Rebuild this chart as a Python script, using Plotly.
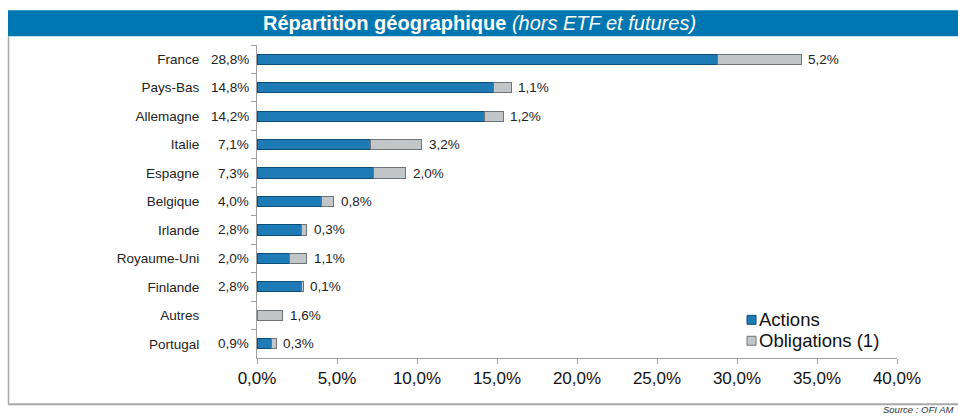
import plotly.graph_objects as go

categories = ["France", "Pays-Bas", "Allemagne", "Italie", "Espagne", "Belgique",
              "Irlande", "Royaume-Uni", "Finlande", "Autres", "Portugal"]
actions = [28.8, 14.8, 14.2, 7.1, 7.3, 4.0, 2.8, 2.0, 2.8, 0.0, 0.9]
obligations = [5.2, 1.1, 1.2, 3.2, 2.0, 0.8, 0.3, 1.1, 0.1, 1.6, 0.3]
actions_labels = ["28,8%", "14,8%", "14,2%", "7,1%", "7,3%", "4,0%", "2,8%", "2,0%", "2,8%", "", "0,9%"]
oblig_labels = ["5,2%", "1,1%", "1,2%", "3,2%", "2,0%", "0,8%", "0,3%", "1,1%", "0,1%", "1,6%", "0,3%"]
series_names = ["Actions", "Obligations (1)"]
series_colors = ["#1E7BB5", "#C3C6C9"]
series_lines = ["#0E4C78", "#6F7478"]
x_ticks = [0, 5, 10, 15, 20, 25, 30, 35, 40]
x_tick_labels = ["0,0%", "5,0%", "10,0%", "15,0%", "20,0%", "25,0%", "30,0%", "35,0%", "40,0%"]

W, H = 958, 416
L, R, T, B = 257, 897, 44.75, 358.25
FONT = "Liberation Sans, Arial, sans-serif"

def px(x):
    return (x - L) / (R - L)

def py(y):
    return (B - y) / (B - T)

fig = go.Figure()
for name, vals, col, lc in zip(series_names, [actions, obligations], series_colors, series_lines):
    fig.add_trace(go.Bar(
        y=categories, x=vals, orientation="h", name=name,
        marker=dict(color=col, line=dict(color=lc, width=1)),
        width=0.36, hoverinfo="x+y", showlegend=False,
    ))

annotations = []
for c, a, o, al, ol in zip(categories, actions, obligations, actions_labels, oblig_labels):
    if al:
        annotations.append(dict(xref="paper", yref="y", x=px(251), y=c, text=al,
                                showarrow=False, xanchor="right", yanchor="middle",
                                font=dict(family=FONT, size=13.5, color="#222")))
    annotations.append(dict(xref="x", yref="y", x=a + o, y=c, text=ol, xshift=5,
                            showarrow=False, xanchor="left", yanchor="middle",
                            font=dict(family=FONT, size=13.5, color="#222")))

annotations.append(dict(
    xref="paper", yref="paper", x=px(479), y=py(23),
    text="<b>Répartition géographique</b> <i>(hors ETF et futures)</i>",
    showarrow=False, xanchor="center", yanchor="middle",
    font=dict(family=FONT, size=20, color="white")))
annotations.append(dict(
    xref="paper", yref="paper", x=px(955), y=py(409.5),
    text="<i>Source : OFI AM</i>", showarrow=False, xanchor="right", yanchor="middle",
    font=dict(family=FONT, size=9.5, color="#333")))

shapes = [
    dict(type="rect", xref="paper", yref="paper", x0=px(8), x1=px(960), y0=py(36), y1=py(10),
         fillcolor="#0077B0", line=dict(width=0), layer="below"),
    dict(type="line", xref="paper", yref="paper", x0=px(8.5), x1=px(8.5), y0=py(36), y1=py(404.5),
         line=dict(color="#A6A8AA", width=1.5)),
    dict(type="line", xref="paper", yref="paper", x0=px(8), x1=px(960), y0=py(404.5), y1=py(404.5),
         line=dict(color="#A6A8AA", width=2)),
]

# custom legend (symbol right next to text, as in the reference)
leg_y = [320, 341]
for name, col, lc, yy in zip(series_names, series_colors, series_lines, leg_y):
    shapes.append(dict(type="rect", xref="paper", yref="paper",
                       x0=px(747), x1=px(756), y0=py(yy + 4.5), y1=py(yy - 4.5),
                       fillcolor=col, line=dict(color=lc, width=1)))
    annotations.append(dict(xref="paper", yref="paper", x=px(757), y=py(yy), text=name,
                            showarrow=False, xanchor="left", yanchor="middle",
                            font=dict(family=FONT, size=18.5, color="#111")))

fig.update_layout(
    width=W, height=H,
    margin=dict(l=L, r=W - R, t=T, b=H - B, pad=0),
    barmode="stack",
    plot_bgcolor="white", paper_bgcolor="white",
    font=dict(family=FONT, size=13.5, color="#222"),
    showlegend=False,
    annotations=annotations,
    shapes=shapes,
    xaxis=dict(range=[0, 40], tickvals=x_ticks, ticktext=x_tick_labels,
               showgrid=False, zeroline=False, showline=True, linecolor="#A0A0A0", linewidth=1,
               ticks="outside", ticklen=5, tickcolor="#A0A0A0",
               tickfont=dict(family=FONT, size=17, color="#111"), fixedrange=True),
    yaxis=dict(categoryorder="array", categoryarray=categories, autorange="reversed",
               showgrid=False, zeroline=False, showline=True, linecolor="#A0A0A0", linewidth=1,
               ticks="outside", ticklen=5, tickcolor="#A0A0A0", tickson="boundaries",
               ticklabelstandoff=54,
               tickfont=dict(family=FONT, size=13.5, color="#222"), fixedrange=True),
)

fig.write_html("out.html", config={"displayModeBar": False},
               post_script="document.body.style.margin='0';document.body.style.overflow='hidden';")
